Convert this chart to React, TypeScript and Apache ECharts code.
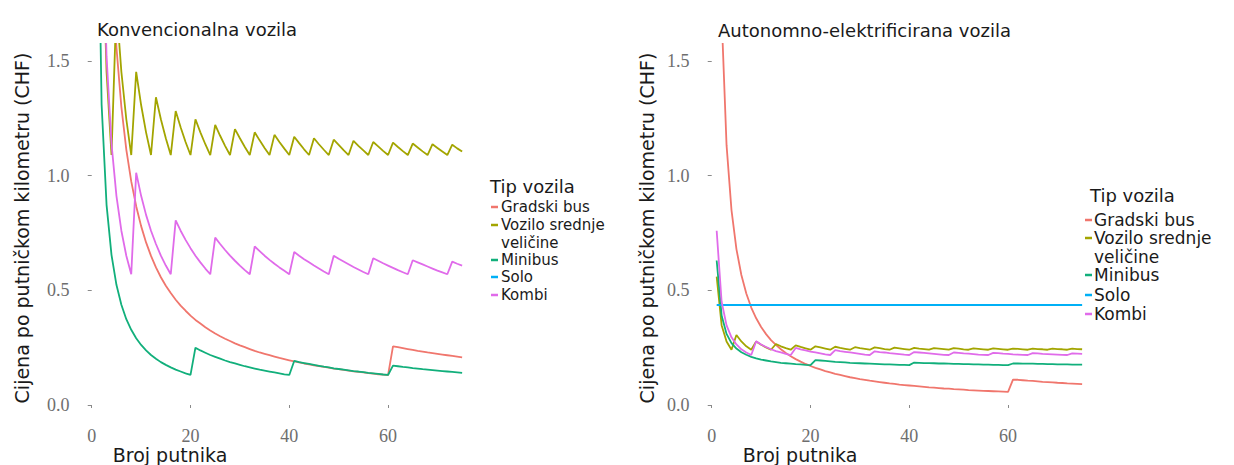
import React, { useEffect, useRef } from "react";
import * as echarts from "echarts";

// Broj putnika (x)
const passengers = [
  1, 2, 3, 4, 5, 6, 7, 8, 9, 10, 11, 12, 13, 14, 15, 16, 17, 18, 19, 20,
  21, 22, 23, 24, 25, 26, 27, 28, 29, 30, 31, 32, 33, 34, 35, 36, 37, 38, 39, 40,
  41, 42, 43, 44, 45, 46, 47, 48, 49, 50, 51, 52, 53, 54, 55, 56, 57, 58, 59, 60,
  61, 62, 63, 64, 65, 66, 67, 68, 69, 70, 71, 72, 73, 74, 75,
];

// Konvencionalna vozila
const convGradskiBus = [
  7.8, 3.9, 2.6, 1.95, 1.56, 1.3, 1.114, 0.975, 0.867, 0.78, 0.709, 0.65, 0.6, 0.557, 0.52, 0.488, 0.459, 0.433, 0.411, 0.39,
  0.371, 0.355, 0.339, 0.325, 0.312, 0.3, 0.289, 0.279, 0.269, 0.26, 0.252, 0.244, 0.236, 0.229, 0.223, 0.217, 0.211, 0.205, 0.2, 0.195,
  0.19, 0.186, 0.181, 0.177, 0.173, 0.17, 0.166, 0.163, 0.159, 0.156, 0.153, 0.15, 0.147, 0.144, 0.142, 0.139, 0.137, 0.134, 0.132, 0.13,
  0.256, 0.252, 0.248, 0.244, 0.24, 0.236, 0.233, 0.229, 0.226, 0.223, 0.22, 0.217, 0.214, 0.211, 0.208,
];
const convSrednje = [
  4.36, 2.18, 1.453, 1.09, 1.744, 1.453, 1.246, 1.09, 1.453, 1.308, 1.189, 1.09, 1.342, 1.246, 1.163, 1.09, 1.282, 1.211, 1.147, 1.09,
  1.246, 1.189, 1.137, 1.09, 1.221, 1.174, 1.13, 1.09, 1.203, 1.163, 1.125, 1.09, 1.189, 1.154, 1.121, 1.09, 1.178, 1.147, 1.118, 1.09,
  1.17, 1.142, 1.115, 1.09, 1.163, 1.137, 1.113, 1.09, 1.157, 1.134, 1.111, 1.09, 1.152, 1.13, 1.11, 1.09, 1.147, 1.128, 1.108, 1.09,
  1.144, 1.125, 1.107, 1.09, 1.14, 1.123, 1.106, 1.09, 1.137, 1.121, 1.105, 1.09, 1.135, 1.119, 1.105,
];
const convMinibus = [
  2.62, 1.31, 0.873, 0.655, 0.524, 0.437, 0.374, 0.328, 0.291, 0.262, 0.238, 0.218, 0.202, 0.187, 0.175, 0.164, 0.154, 0.146, 0.138, 0.131,
  0.25, 0.238, 0.228, 0.218, 0.21, 0.202, 0.194, 0.187, 0.181, 0.175, 0.169, 0.164, 0.159, 0.154, 0.15, 0.146, 0.142, 0.138, 0.134, 0.131,
  0.192, 0.187, 0.183, 0.179, 0.175, 0.171, 0.167, 0.164, 0.16, 0.157, 0.154, 0.151, 0.148, 0.146, 0.143, 0.14, 0.138, 0.136, 0.133, 0.131,
  0.172, 0.169, 0.166, 0.164, 0.161, 0.159, 0.156, 0.154, 0.152, 0.15, 0.148, 0.146, 0.144, 0.142, 0.14,
];
const convKombi = [
  4.56, 2.28, 1.52, 1.14, 0.912, 0.76, 0.651, 0.57, 1.013, 0.912, 0.829, 0.76, 0.702, 0.651, 0.608, 0.57, 0.805, 0.76, 0.72, 0.684,
  0.651, 0.622, 0.595, 0.57, 0.73, 0.702, 0.676, 0.651, 0.629, 0.608, 0.588, 0.57, 0.691, 0.671, 0.651, 0.633, 0.616, 0.6, 0.585, 0.57,
  0.667, 0.651, 0.636, 0.622, 0.608, 0.595, 0.582, 0.57, 0.651, 0.638, 0.626, 0.614, 0.602, 0.591, 0.58, 0.57, 0.64, 0.629, 0.618, 0.608,
  0.598, 0.588, 0.579, 0.57, 0.631, 0.622, 0.613, 0.604, 0.595, 0.586, 0.578, 0.57, 0.625, 0.616, 0.608,
];

// Autonomno-elektrificirana vozila
const autoGradskiBus = [
  3.4, 1.7, 1.133, 0.85, 0.68, 0.567, 0.486, 0.425, 0.378, 0.34, 0.309, 0.283, 0.262, 0.243, 0.227, 0.213, 0.2, 0.189, 0.179, 0.17,
  0.162, 0.155, 0.148, 0.142, 0.136, 0.131, 0.126, 0.121, 0.117, 0.113, 0.11, 0.106, 0.103, 0.1, 0.097, 0.094, 0.092, 0.089, 0.087, 0.085,
  0.083, 0.081, 0.079, 0.077, 0.076, 0.074, 0.072, 0.071, 0.069, 0.068, 0.067, 0.065, 0.064, 0.063, 0.062, 0.061, 0.06, 0.059, 0.058, 0.057,
  0.111, 0.11, 0.108, 0.106, 0.105, 0.103, 0.101, 0.1, 0.099, 0.097, 0.096, 0.094, 0.093, 0.092, 0.091,
];
const autoSrednje = [
  0.56, 0.348, 0.277, 0.241, 0.305, 0.277, 0.256, 0.241, 0.277, 0.263, 0.251, 0.241, 0.266, 0.256, 0.248, 0.241, 0.26, 0.253, 0.247, 0.241,
  0.256, 0.251, 0.246, 0.241, 0.254, 0.249, 0.245, 0.241, 0.252, 0.248, 0.245, 0.241, 0.251, 0.248, 0.244, 0.241, 0.25, 0.247, 0.244, 0.241,
  0.249, 0.246, 0.244, 0.241, 0.248, 0.246, 0.244, 0.241, 0.248, 0.246, 0.243, 0.241, 0.247, 0.245, 0.243, 0.241, 0.247, 0.245, 0.243, 0.241,
  0.246, 0.245, 0.243, 0.241, 0.246, 0.244, 0.243, 0.241, 0.246, 0.244, 0.243, 0.241, 0.246, 0.244, 0.243,
];
const autoMinibus = [
  0.63, 0.39, 0.31, 0.27, 0.246, 0.23, 0.219, 0.21, 0.203, 0.198, 0.194, 0.19, 0.187, 0.184, 0.182, 0.18, 0.178, 0.177, 0.175, 0.174,
  0.196, 0.194, 0.192, 0.19, 0.188, 0.187, 0.186, 0.184, 0.183, 0.182, 0.181, 0.18, 0.179, 0.178, 0.177, 0.177, 0.176, 0.175, 0.175, 0.174,
  0.185, 0.184, 0.183, 0.183, 0.182, 0.181, 0.181, 0.18, 0.179, 0.179, 0.178, 0.178, 0.177, 0.177, 0.176, 0.176, 0.175, 0.175, 0.174, 0.174,
  0.181, 0.181, 0.18, 0.18, 0.18, 0.179, 0.179, 0.178, 0.178, 0.177, 0.177, 0.177, 0.176, 0.176, 0.176,
];
const autoSoloPassengers = [1, 75];
const autoSolo = [0.436, 0.436];
const autoKombi = [
  0.76, 0.45, 0.347, 0.295, 0.264, 0.243, 0.229, 0.218, 0.278, 0.264, 0.253, 0.243, 0.235, 0.229, 0.223, 0.218, 0.249, 0.243, 0.238, 0.233,
  0.229, 0.225, 0.221, 0.218, 0.239, 0.235, 0.232, 0.229, 0.226, 0.223, 0.22, 0.218, 0.234, 0.231, 0.229, 0.226, 0.224, 0.222, 0.22, 0.218,
  0.231, 0.229, 0.227, 0.225, 0.223, 0.221, 0.219, 0.218, 0.229, 0.227, 0.225, 0.224, 0.222, 0.22, 0.219, 0.218, 0.227, 0.226, 0.224, 0.223,
  0.221, 0.22, 0.219, 0.218, 0.226, 0.225, 0.223, 0.222, 0.221, 0.22, 0.219, 0.218, 0.225, 0.224, 0.223,
];

const vehicleTypes = ["Gradski bus", "Vozilo srednje veličine", "Minibus", "Solo", "Kombi"];
const legendLines = [["Gradski bus"], ["Vozilo srednje", "veličine"], ["Minibus"], ["Solo"], ["Kombi"]];
const colors = ["#F0766D", "#A3A500", "#11AF7B", "#00B0F6", "#E06BEA"];
const xTicks = [0, 20, 40, 60];
const yTicks = [0, 0.5, 1.0, 1.5];

const panelTitles = ["Konvencionalna vozila", "Autonomno-elektrificirana vozila"];
const yTitle = "Cijena po putničkom kilometru (CHF)";
const xTitle = "Broj putnika";
const legendTitle = "Tip vozila";

const SANS = "DejaVu Sans";
const SERIF = "Liberation Serif";

function pairs(xs: number[], ys: number[]) {
  return xs.map((x, i) => [x, ys[i]]);
}

export default function App() {
  const ref = useRef<HTMLDivElement>(null);

  useEffect(() => {
    if (!ref.current) return;
    const chart = echarts.init(ref.current, null, { renderer: "svg" });

    const gridTop = 43.8;
    const gridH = 378.4;
    const grids = [
      { left: 78.4, top: gridTop, width: 402, height: gridH },
      { left: 698.4, top: gridTop, width: 402, height: gridH },
    ];

    const mkX = (gi: number) => ({
      type: "value",
      gridIndex: gi,
      min: -2.7,
      max: 78.7,
      axisLine: { show: false },
      splitLine: { show: false },
      axisTick: { show: true, length: 3, customValues: xTicks, lineStyle: { color: "#8a8a8a", width: 1 } },
      axisLabel: {
        customValues: xTicks,
        margin: 5,
        color: "#6e6e6e",
        fontFamily: SERIF,
        fontSize: 18,
        formatter: (v: number) => String(v),
      },
    });
    const mkY = (gi: number) => ({
      type: "value",
      gridIndex: gi,
      min: -0.075,
      max: 1.575,
      axisLine: { show: false },
      splitLine: { show: false },
      axisTick: { show: true, length: 4, customValues: yTicks, lineStyle: { color: "#8a8a8a", width: 1 } },
      axisLabel: {
        customValues: yTicks,
        margin: 9,
        color: "#6e6e6e",
        fontFamily: SERIF,
        fontSize: 18,
        formatter: (v: number) => v.toFixed(1),
      },
    });

    const lineSeries = (name: string, gi: number, data: number[][], color: string) => ({
      type: "line",
      name,
      xAxisIndex: gi,
      yAxisIndex: gi,
      data,
      showSymbol: false,
      symbol: "none",
      clip: true,
      lineStyle: { color, width: 1.8 },
      itemStyle: { color },
      z: 2,
    });

    const series = [
      lineSeries(vehicleTypes[0], 0, pairs(passengers, convGradskiBus), colors[0]),
      lineSeries(vehicleTypes[1], 0, pairs(passengers, convSrednje), colors[1]),
      lineSeries(vehicleTypes[2], 0, pairs(passengers, convMinibus), colors[2]),
      lineSeries(vehicleTypes[4], 0, pairs(passengers, convKombi), colors[4]),
      lineSeries(vehicleTypes[0], 1, pairs(passengers, autoGradskiBus), colors[0]),
      lineSeries(vehicleTypes[1], 1, pairs(passengers, autoSrednje), colors[1]),
      lineSeries(vehicleTypes[2], 1, pairs(passengers, autoMinibus), colors[2]),
      lineSeries(vehicleTypes[3], 1, pairs(autoSoloPassengers, autoSolo), colors[3]),
      lineSeries(vehicleTypes[4], 1, pairs(passengers, autoKombi), colors[4]),
    ];

    const graphics: any[] = [];
    // panel titles
    graphics.push({ type: "text", x: 97, y: 29, style: { text: panelTitles[0], fontFamily: SANS, fontSize: 18, fill: "#1a1a1a", align: "left", verticalAlign: "middle" } });
    graphics.push({ type: "text", x: 718, y: 30, style: { text: panelTitles[1], fontFamily: SANS, fontSize: 18, fill: "#1a1a1a", align: "left", verticalAlign: "middle" } });
    // y titles
    [22, 647].forEach((x) => {
      graphics.push({ type: "text", x, y: 228, rotation: Math.PI / 2, style: { text: yTitle, fontFamily: SANS, fontSize: 19, fill: "#1a1a1a", align: "center", verticalAlign: "middle" } });
    });
    // x titles
    [170, 800].forEach((x) => {
      graphics.push({ type: "text", x, y: 455, style: { text: xTitle, fontFamily: SANS, fontSize: 19, fill: "#1a1a1a", align: "center", verticalAlign: "middle" } });
    });

    // legends
    const legends = [
      { tx: 490, ty: 186, kx: 491, tx2: 501, ys: [207, 225, 260, 277, 295], lh: 17.5, fs: 15 },
      { tx: 1090, ty: 195, kx: 1085, tx2: 1094, ys: [220, 238, 275, 295, 314], lh: 18.5, fs: 17 },
    ];
    legends.forEach((lg) => {
      graphics.push({ type: "text", x: lg.tx, y: lg.ty, style: { text: legendTitle, fontFamily: SANS, fontSize: 18, lineHeight: 18, fill: "#1a1a1a", align: "left", verticalAlign: "middle" } });
      legendLines.forEach((lines, i) => {
        const y = lg.ys[i];
        graphics.push({ type: "line", shape: { x1: lg.kx, y1: y, x2: lg.kx + 7, y2: y }, style: { stroke: colors[i], lineWidth: 2.5 } });
        lines.forEach((t, j) => {
          graphics.push({ type: "text", x: lg.tx2, y: y + j * lg.lh, style: { text: t, fontFamily: SANS, fontSize: lg.fs, lineHeight: lg.fs, fill: "#1a1a1a", align: "left", verticalAlign: "middle" } });
        });
      });
    });

    chart.setOption({
      animation: false,
      backgroundColor: "#ffffff",
      grid: grids,
      xAxis: [mkX(0), mkX(1)],
      yAxis: [mkY(0), mkY(1)],
      series,
      graphic: graphics,
    });

    return () => chart.dispose();
  }, []);

  return (
    <div
      ref={ref}
      style={{ position: "absolute", left: 0, top: 0, width: 1234, height: 465 }}
    />
  );
}
